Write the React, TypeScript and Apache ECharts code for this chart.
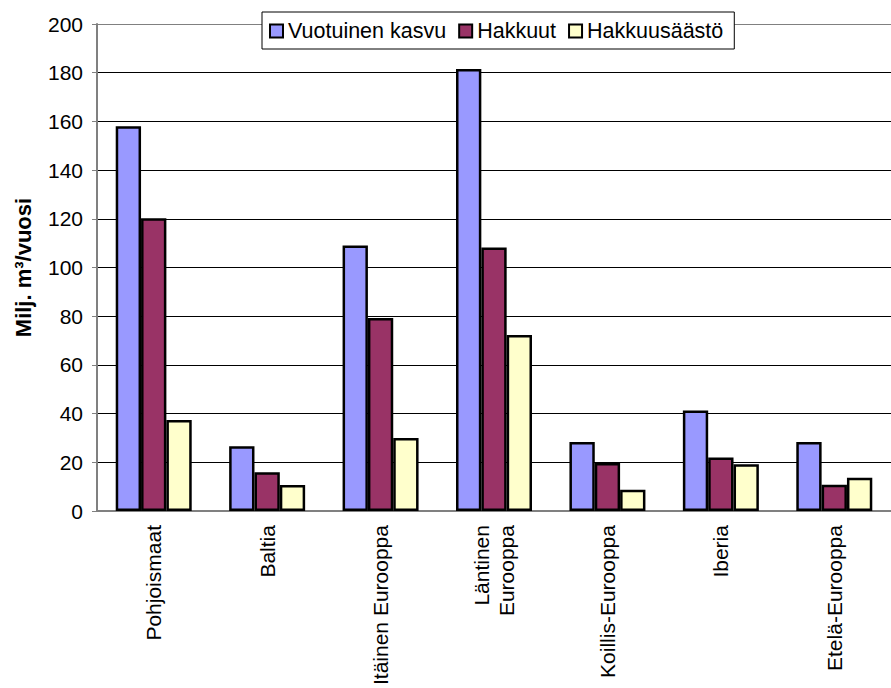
import React, { useEffect, useRef } from "react";
import * as echarts from "echarts";

// Regions and annual figures (million m³ per year)
const regions = [
  "Pohjoismaat",
  "Baltia",
  "Itäinen Eurooppa",
  "Läntinen\nEurooppa",
  "Koillis-Eurooppa",
  "Iberia",
  "Etelä-Eurooppa",
];
const vuotuinenKasvu = [158, 26.6, 109, 181.5, 28.3, 41.3, 28.3];
const hakkuut = [120.2, 15.9, 79.3, 108.2, 19.7, 22, 10.8];
const hakkuusaasto = [37.4, 10.7, 30, 72.3, 8.7, 19.2, 13.7];

const seriesNames = ["Vuotuinen kasvu", "Hakkuut", "Hakkuusäästö"];
const seriesColors = ["#9999FF", "#993366", "#FFFFCC"];
const yTicks = [0, 20, 40, 60, 80, 100, 120, 140, 160, 180, 200];

const FONT = 'Arial, "Liberation Sans", sans-serif';

export default function App() {
  const ref = useRef<HTMLDivElement>(null);

  useEffect(() => {
    if (!ref.current) return;
    const chart = echarts.init(ref.current, null, { renderer: "svg" });

    // grey frame line at the top, black gridlines elsewhere
    const splitColors = yTicks.map((_, i) =>
      i === yTicks.length - 1 ? "#808080" : "#000000"
    );

    const values = [vuotuinenKasvu, hakkuut, hakkuusaasto];

    chart.setOption({
      animation: false,
      backgroundColor: "#ffffff",
      textStyle: { fontFamily: FONT },
      grid: {
        left: 97,
        top: 24,
        right: -11,
        bottom: 176,
      },
      legend: {
        left: 262,
        top: 12,
        padding: [8, 11, 7, 7],
        backgroundColor: "#ffffff",
        borderColor: "#000000",
        borderWidth: 1,
        itemWidth: 13,
        itemHeight: 13,
        itemGap: 12,
        icon: "rect",
        textStyle: { fontSize: 21.5, color: "#000", fontFamily: FONT },
        data: seriesNames,
      },
      xAxis: {
        type: "category",
        data: regions,
        axisLine: { lineStyle: { color: "#808080", width: 2 } },
        axisTick: { show: false },
        axisLabel: {
          rotate: 90,
          margin: 14,
          fontSize: 21,
          color: "#000",
          fontFamily: FONT,
          interval: 0,
          lineHeight: 25,
        },
      },
      yAxis: {
        type: "value",
        min: 0,
        max: 200,
        interval: 20,
        name: "Milj. m³/vuosi",
        nameLocation: "middle",
        nameGap: 63,
        nameTextStyle: {
          fontSize: 22,
          fontWeight: "bold",
          color: "#000",
          fontFamily: FONT,
        },
        axisLine: { show: true, lineStyle: { color: "#808080", width: 2 } },
        axisTick: {
          show: true,
          length: 5,
          lineStyle: { color: "#808080", width: 1 },
        },
        axisLabel: { fontSize: 21, color: "#000", margin: 14, fontFamily: FONT },
        splitLine: { show: true, lineStyle: { color: splitColors, width: 1 } },
      },
      series: seriesNames.map((name, i) => ({
        name,
        type: "bar",
        data: values[i],
        barGap: "0%",
        barCategoryGap: "33%",
        itemStyle: {
          color: seriesColors[i],
          borderColor: "#000000",
          borderWidth: 2.5,
        },
      })),
    });

    return () => chart.dispose();
  }, []);

  return (
    <div
      ref={ref}
      style={{ position: "fixed", left: 0, top: 0, width: 891, height: 688 }}
    />
  );
}
